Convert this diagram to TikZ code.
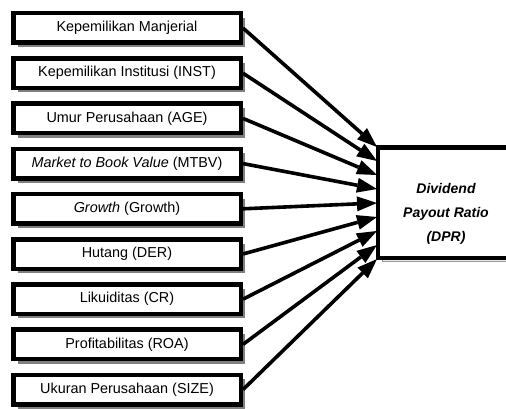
\documentclass[tikz,border=0pt]{standalone}
\usepackage{fontspec}
\setmainfont{Liberation Sans}
\usetikzlibrary{arrows.meta,shadows}
\begin{document}
\begin{tikzpicture}[x=1pt,y=1pt,
  varbox/.style={draw=black, line width=4.5pt, fill=white, minimum width=227.5pt, minimum height=29.5pt, inner sep=0pt,
    font=\fontsize{14.4}{16}\selectfont,
    drop shadow={shadow xshift=4.5pt, shadow yshift=-4.5pt, fill=black!50, opacity=1}},
  dprbox/.style={draw=black, line width=4.5pt, fill=white, minimum width=136pt, minimum height=110.5pt, inner sep=0pt,
    drop shadow={shadow xshift=4pt, shadow yshift=-4pt, fill=black!8, draw=black!40, line width=0.8pt, opacity=1}},
  dprtext/.style={align=center, font=\fontsize{14}{24}\selectfont\bfseries\itshape, inner sep=0pt},
  link/.style={line width=3.6pt, -{Triangle[length=20pt,width=15pt,line width=0pt]}}
]
\useasboundingbox (0,0) rectangle (506,408);
\node[dprbox] (dpr) at (446,{408-202.5}) {};
\node[dprtext] (dprlabel) at (446,{408-214}) {Dividend\\Payout Ratio\\(DPR)};
\foreach \i in {1,...,9}{
  \coordinate (t\i) at (377,{408-147-14*(\i-1)});
  \node[varbox] (l\i) at (127,{408-28-45.2*(\i-1)}) {\ifcase\i\or Kepemilikan Manjerial\or Kepemilikan Institusi (INST)\or Umur Perusahaan (AGE)\or \textit{Market to Book Value} (MTBV)\or \textit{Growth} (Growth)\or Hutang (DER)\or Likuiditas (CR)\or Profitabilitas (ROA)\or Ukuran Perusahaan (SIZE)\fi};
}
\draw[link] (l1.east) -- (t1);
\draw[link] (l2.east) -- (t2);
\draw[link] (l3.east) -- (t3);
\draw[link] (l4.east) -- (t4);
\draw[link] (l5.east) -- (t5);
\draw[link] (l6.east) -- (t6);
\draw[link] (l7.east) -- (t7);
\draw[link] (l8.east) -- (t8);
\draw[link] (l9.east) -- (t9);
\end{tikzpicture}
\end{document}
